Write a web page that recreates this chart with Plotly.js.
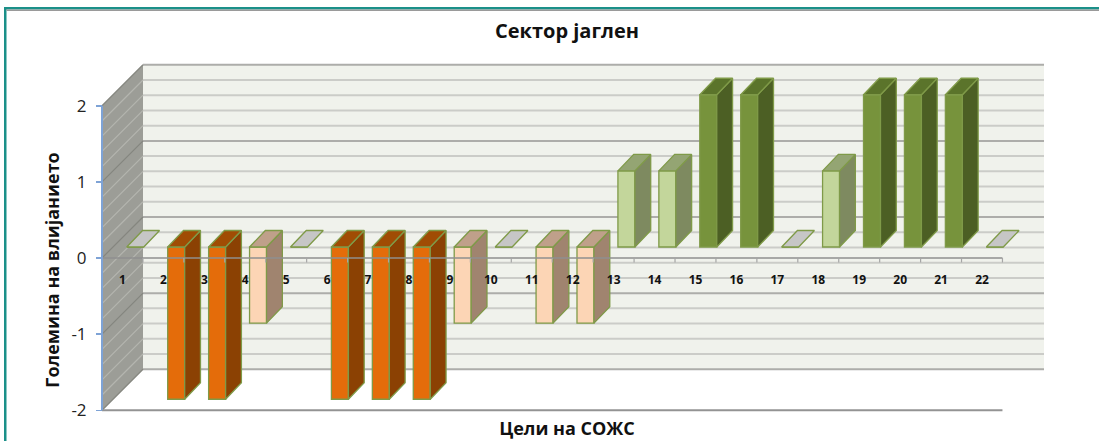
<!DOCTYPE html>
<html><head><meta charset="utf-8">
<script src="https://cdn.plot.ly/plotly-3.0.1.min.js"></script>
<style>html,body{margin:0;padding:0;background:#fff}#c{width:1099px;height:441px}</style>
</head><body><div id="c"></div>
<script>
const categories = ['1','2','3','4','5','6','7','8','9','10','11','12','13','14','15','16','17','18','19','20','21','22'];
const impact = [0,-2,-2,-1,0,-2,-2,-2,-1,0,-1,-1,1,1,2,2,0,1,2,2,2,0];
const yTicks = [-2,-1,0,1,2];
const chartTitle = 'Сектор јаглен';
const xTitle = 'Цели на СОЖС';
const yTitle = 'Големина на влијанието';
const font = '"Open Sans", "Noto Sans", sans-serif';

// value -> [front, top, side]
const palette = {
  '-2': ['#E46C0A','#A04C04','#8B4103'],
  '-1': ['#FCD5B5','#BFA08A','#A0846F'],
  '0':  ['#C6C6C6','#C6C6C6','#C6C6C6'],
  '1':  ['#C3D69B','#94A573','#7E8A60'],
  '2':  ['#77933C','#5B742B','#4C5F24']
};
const edge = '#7F9A48';

// pixel geometry of the fake 3-D box, turned into axis units
const W = 1099, H = 441, L = 90, R = 1044, T = 60, B = 441;
const catPx = 40.93, unitPx = 76.125;
const x0Px = 102;
const xRange = [0.5 - (x0Px - L)/catPx, 0.5 + (R - x0Px)/catPx];
const plane = 247;                                   // pixel row of value 0 for the columns
const yRange = [(plane - B)/unitPx, (plane - T)/unitPx];
const label0 = 258;                                  // pixel row of value 0 on the front axis
const y2Top = 99;
const y2Range = [(label0 - B)/unitPx, (label0 - y2Top)/unitPx];
const barOff = 0.105, barW = 0.415, dx = 15.8/catPx, dy = 16.5/unitPx;
const frontY = (plane - label0)/unitPx, backY = (plane - 217)/unitPx;
const wallX0 = 0.5, wallX1 = 0.5 + 41/catPx + 22.02; // left-front corner, right-back corner
const wallX = 0.5 + 41/catPx;

const shapes = [];
const rect = (x0,x1,y0,y1,fill) => shapes.push({type:'rect',xref:'x',yref:'y',layer:'below',x0,x1,y0,y1,fillcolor:fill,line:{width:0}});
const path = (d,fill) => shapes.push({type:'path',xref:'x',yref:'y',layer:'below',path:d,fillcolor:fill,line:{width:0}});
const seg = (x0,y0,x1,y1,color,width) => shapes.push({type:'line',xref:'x',yref:'y',layer:'below',x0,y0,x1,y1,line:{color,width}});

rect(wallX, wallX1, backY-2, backY+2, '#F0F2EC');
path(`M${wallX0},${frontY-2}L${wallX},${backY-2}L${wallX},${backY+2}L${wallX0},${frontY+2}Z`, '#9C9D97');
for (let k = 0; k <= 20; k++) {
  const v = -2 + k*0.2, major = k % 5 === 0;
  seg(wallX, backY+v, wallX1, backY+v, major ? '#ADADAA' : '#CBCCC8', 2);
  seg(wallX0, frontY+v, wallX, backY+v, major ? '#85867F' : '#B4B5AF', 1.2);
}

// column front faces
const bars = {
  type:'bar', x:categories.map(Number), y:impact, xaxis:'x', yaxis:'y',
  width:barW, offset:barOff,
  marker:{color:impact.map(v => palette[v][0]), line:{color:edge, width:1.3}},
  cliponaxis:false, showlegend:false, hoverinfo:'x+y'
};

// column top and side faces, one fill trace per colour
const faceTraces = [];
Object.keys(palette).forEach(key => {
  const v = +key, tx = [], ty = [], sx = [], sy = [];
  categories.forEach((c, i) => {
    if (impact[i] !== v) return;
    const xl = +c + barOff, xr = xl + barW, top = Math.max(v,0), bot = Math.min(v,0);
    tx.push(xl, xr, xr+dx, xl+dx, xl, null);
    ty.push(top, top, top+dy, top+dy, top, null);
    if (v !== 0) {
      sx.push(xr, xr+dx, xr+dx, xr, xr, null);
      sy.push(top, top+dy, bot+dy, bot, top, null);
    }
  });
  const face = (x, y, color) => ({type:'scatter', mode:'lines', x, y, xaxis:'x', yaxis:'y',
    fill:'toself', fillcolor:color, line:{color:edge, width:1.3}, connectgaps:false,
    cliponaxis:false, showlegend:false, hoverinfo:'skip'});
  if (sx.length) faceTraces.push(face(sx, sy, palette[key][2]));
  faceTraces.push(face(tx, ty, palette[key][1]));
});

// axes drawn over the box
const xEnd = 22.5;
const lineTrace = (x, y, color, width) => ({type:'scatter', mode:'lines', x, y, xaxis:'x', yaxis:'y2',
  line:{color, width}, cliponaxis:false, showlegend:false, hoverinfo:'skip'});
const zeroX = [], zeroY = [];
for (let k = 0; k <= 22; k++) { zeroX.push(k+0.5, k+0.5, null); zeroY.push(0, -4.5/unitPx, null); }
const axisTraces = [
  lineTrace([0.5,xEnd],[-2,-2],'#939393',2),
  lineTrace([0.5,xEnd],[0,0],'#8F8F8F',1.6),
  lineTrace(zeroX,zeroY,'#A6A6A6',1.2),
  lineTrace([0.5,0.5],[-2,2],'#7EA3D6',2)
];

const px = v => (v - L)/(R - L), py = v => (B - v)/(B - T);
shapes.push(
  {type:'rect',xref:'paper',yref:'paper',layer:'above',x0:px(4),x1:px(6.5),y0:py(441),y1:py(7),fillcolor:'#1B9089',line:{width:0}},
  {type:'rect',xref:'paper',yref:'paper',layer:'above',x0:px(4),x1:px(1099),y0:py(9.5),y1:py(7),fillcolor:'#1B9089',line:{width:0}},
  {type:'rect',xref:'paper',yref:'paper',layer:'above',x0:px(6.5),x1:px(1099),y0:py(11),y1:py(9.5),fillcolor:'#9A9A9A',line:{width:0}}
);

const layout = {
  width:W, height:H, margin:{l:L, r:W-R, t:T, b:H-B, pad:0},
  paper_bgcolor:'#fff', plot_bgcolor:'rgba(0,0,0,0)', showlegend:false, barmode:'overlay',
  font:{family:font, color:'#111'},
  title:{text:'<b>'+chartTitle+'</b>', font:{family:font, size:20, color:'#111'}, xref:'paper', x:0.5, xanchor:'center', yref:'container', y:0.93, yanchor:'middle'},
  xaxis:{range:xRange, anchor:'free', position:py(label0), showgrid:false, zeroline:false, showline:false,
    tickmode:'array', tickvals:categories.map(Number), ticktext:categories.map(c=>'<b>'+c+'</b>'),
    ticks:'', ticklabelstandoff:13, tickfont:{family:font, size:12, color:'#111'},
    title:{text:'<b>'+xTitle+'</b>', font:{family:font, size:18, color:'#111'}, standoff:135}},
  yaxis:{range:yRange, domain:[0,1], anchor:'x', visible:false, fixedrange:true},
  yaxis2:{range:y2Range, domain:[0,py(y2Top)], anchor:'free', position:px(x0Px), side:'left',
    showgrid:false, zeroline:false, showline:false, tickmode:'array', tickvals:yTicks, ticktext:yTicks.map(String),
    ticks:'outside', ticklen:6, tickwidth:1.5, tickcolor:'#7EA3D6', ticklabelstandoff:6, tickfont:{family:font, size:17, color:'#222'},
    title:{text:'<b>'+yTitle+'</b>', font:{family:font, size:18, color:'#111'}, standoff:6}},
  shapes
};
Plotly.newPlot('c', [bars, ...faceTraces, ...axisTraces], layout, {displayModeBar:false, staticPlot:true});
</script></body></html>
